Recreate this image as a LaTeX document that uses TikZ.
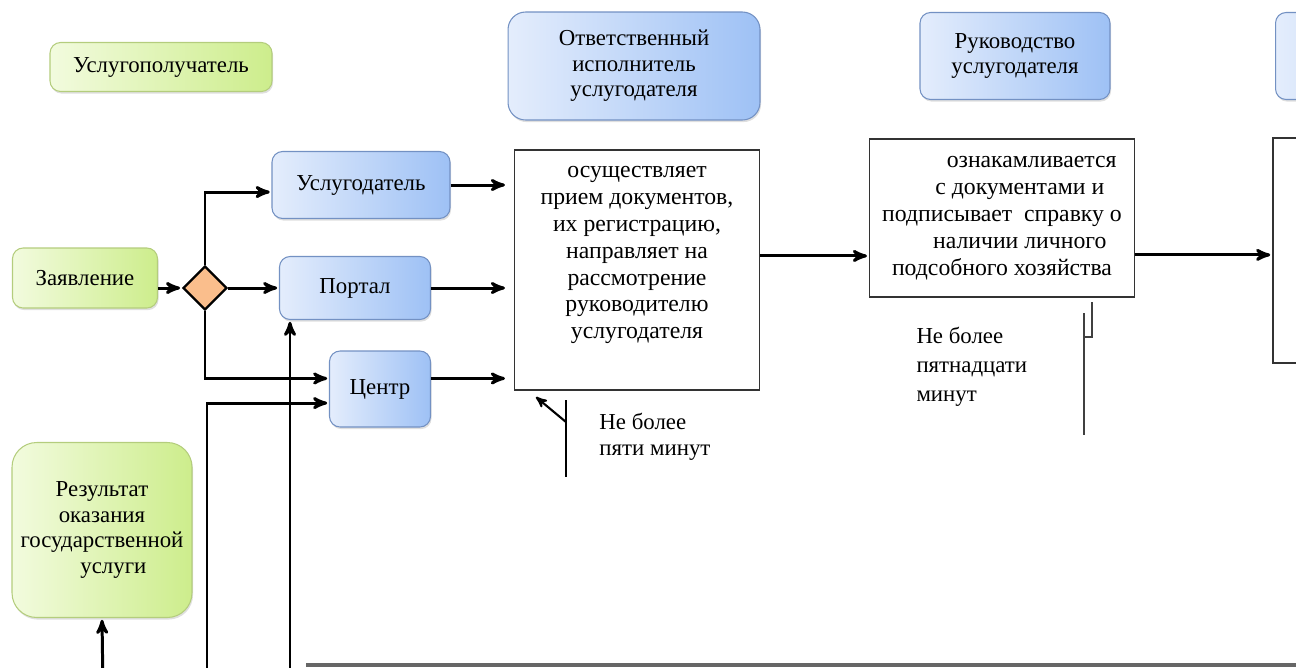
\documentclass[tikz,border=0pt]{standalone}
\usepackage{fontspec}
\setmainfont{Liberation Serif}
\usetikzlibrary{arrows}
\usetikzlibrary{calc}
\usetikzlibrary{shapes.geometric,shadows}

\definecolor{grnL}{RGB}{242,251,222}
\definecolor{grnR}{RGB}{205,237,140}
\definecolor{grnB}{RGB}{180,205,125}
\definecolor{bluL}{RGB}{228,237,252}
\definecolor{bluR}{RGB}{158,193,245}
\definecolor{bluB}{RGB}{115,145,195}
\definecolor{romb}{RGB}{250,190,140}

\begin{document}
\begin{tikzpicture}[x=0.02cm,y=-0.02cm,->,>=stealth',line width=1.7pt,
  every node/.style={font=\fontsize{13}{14.5}\selectfont,align=center},
  green node/.style={draw=grnB,line width=0.6pt,rounded corners=6pt,left color=grnL,right color=grnR,
    drop shadow={opacity=0.25,shadow xshift=0.6pt,shadow yshift=-1.2pt}},
  blue node/.style={draw=bluB,line width=0.6pt,rounded corners=6pt,left color=bluL,right color=bluR,
    drop shadow={opacity=0.25,shadow xshift=0.6pt,shadow yshift=-1.2pt}},
  work node/.style={draw=black!80,line width=0.9pt,fill=white,font=\fontsize{13.5}{15.3}\selectfont},
  time note/.style={align=left,anchor=west,inner sep=0pt}]

  \clip (0,0) rectangle (1296,667);

  % roles
  \node[green node,minimum width=4.44cm,minimum height=0.98cm] (poluch) at (161,67) {Услугополучатель};
  \node[blue node,rounded corners=10pt,minimum width=5.04cm,minimum height=2.16cm] (otvet) at (634,66) {Ответственный\\исполнитель\\услугодателя};
  \node[blue node,minimum width=3.8cm,minimum height=1.74cm] (ruk) at (1015,56) {Руководство\\услугодателя};
  \node[blue node,anchor=west,minimum width=4.4cm,minimum height=1.74cm] (otvet2) at (1275,56) {};

  % left part
  \node[green node,minimum width=2.9cm,minimum height=1.2cm] (zayav) at (85,278) {Заявление};
  \node[diamond,draw=black,fill=romb,line width=1.3pt,inner sep=0pt,minimum size=0.88cm] (vybor) at (205,288) {};
  \node[blue node,minimum width=3.56cm,minimum height=1.34cm] (uslug) at (361,185) {Услугодатель};
  \node[blue node,minimum width=3.02cm,minimum height=1.26cm] (portal) at (355,288) {Портал};
  \node[blue node,minimum width=2.02cm,minimum height=1.52cm] (centr) at (380,389) {Центр};
  \node[green node,rounded corners=14pt,minimum width=3.6cm,minimum height=3.5cm] (rezult) at (102,530) {Результат\\оказания\\государственной\\\hspace*{1em}услуги};

  % steps
  \node[work node,minimum width=4.9cm,minimum height=4.8cm] (priem) at (637,270) {осуществляет\\прием документов,\\их регистрацию,\\направляет на\\рассмотрение\\руководителю\\услугодателя\\ \strut};
  \node[work node,minimum width=5.3cm,minimum height=3.16cm] (oznak) at (1002,218) {\hspace*{2.5em}ознакамливается\\\hspace*{1.5em}с документами и\\подписывает\ \ справку о\\\hspace*{1.5em}наличии личного\\подсобного хозяйства};
  \node[work node,anchor=north west,minimum width=5cm,minimum height=4.5cm] (dalee) at (1272,137) {};

  % times
  \node[time note,font=\fontsize{13}{15}\selectfont] (vremya1) at (598,437) {Не более\\пяти минут};
  \node[time note,font=\fontsize{13}{16.5}\selectfont] (vremya2) at (915,367) {Не более\\пятнадцати\\минут};

  \coordinate (niz1) at (103,690);
  \coordinate (niz2) at (207,690);
  \coordinate (niz3) at (290,690);
  \coordinate (o1) at ([yshift=8pt]priem.east);
  \coordinate (o2) at ([yshift=-21pt]oznak.east);
  \coordinate (c1) at ([yshift=6pt]centr.west);
  \coordinate (c2) at ([yshift=-8pt]centr.west);
  \coordinate (c3) at ([yshift=6pt]centr.east);
  \coordinate (u1) at ([yshift=-4pt]uslug.west);

  \path[shorten >=1pt]
    (zayav.east |- vybor) edge (vybor.west)
    (vybor.north) edge [to path={|- (\tikztotarget)}] (u1)
    (vybor.east) edge (portal.west)
    (vybor.south) edge [to path={|- (\tikztotarget)}] (c1)
    (niz2) edge [to path={|- (\tikztotarget)}] (c2)
    (niz3) edge (niz3 |- portal.south)
    (niz1) edge (rezult.south)
    (uslug.east) edge [shorten >=5pt] (uslug.east -| priem.west)
    (portal.east) edge [shorten >=5pt] (portal.east -| priem.west)
    (c3) edge [shorten >=5pt] (c3 -| priem.west)
    (o1) edge (o1 -| oznak.west)
    (o2) edge (o2 -| dalee.west);

  % time marks
  \draw[-,line width=0.7pt] (566,400) -- (566,477);
  \draw[line width=1.2pt] (566,422) -- (536,397);
  \draw[-,line width=0.7pt,black!75] (1092,302) -- (1092,337) -- (1084,337);
  \draw[-,line width=0.7pt,black!75] (1084,313) -- (1084,435);
  \draw[-,line width=2pt,black!60] (306,665) -- (1296,665);
\end{tikzpicture}
\end{document}
